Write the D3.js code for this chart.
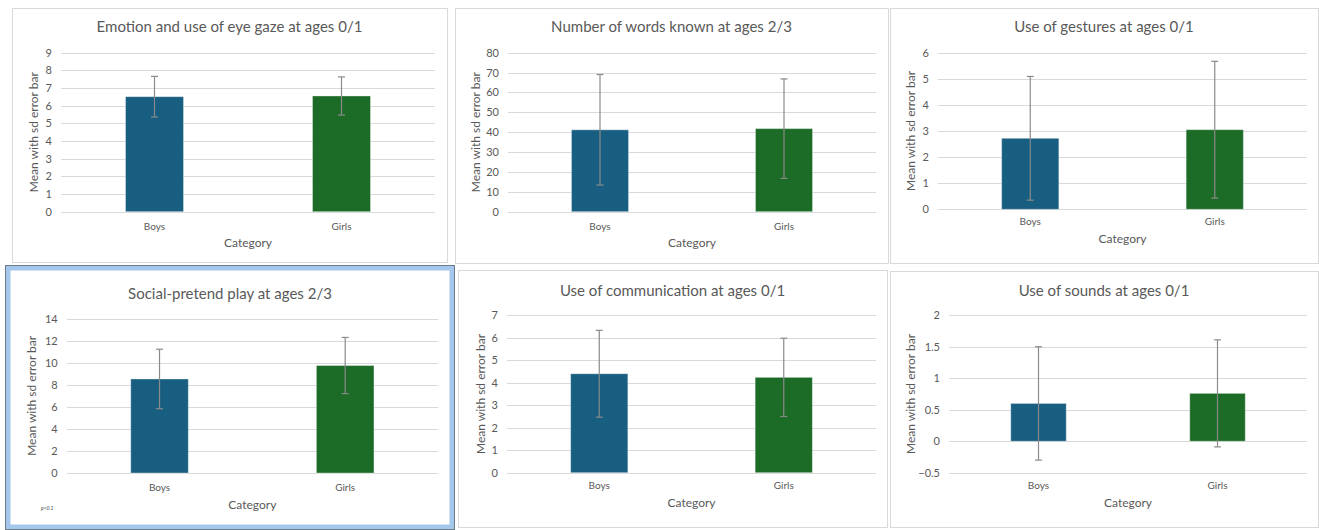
<!DOCTYPE html>
<html>
<head>
<meta charset="utf-8">
<script src="https://cdn.jsdelivr.net/npm/d3@7"></script>
<style>
  html, body { margin: 0; padding: 0; background: #ffffff; }
  svg { display: block; font-family: Lato, "Open Sans", sans-serif; }
</style>
</head>
<body>
<svg id="chart" width="1319" height="530"></svg>
<script>
// ---------- data ----------
const titles = [
  "Emotion and use of eye gaze at ages 0/1",
  "Number of words known at ages 2/3",
  "Use of gestures at ages 0/1",
  "Social-pretend play at ages 2/3",
  "Use of communication at ages 0/1",
  "Use of sounds at ages 0/1"
];
const categories = ["Boys", "Girls"];
const boysMean  = [6.51, 41.2, 2.72, 8.53, 4.40, 0.60];
const boysSD    = [1.15, 27.8, 2.37, 2.70, 1.93, 0.90];
const girlsMean = [6.55, 41.8, 3.05, 9.75, 4.24, 0.76];
const girlsSD   = [1.08, 25.0, 2.62, 2.55, 1.74, 0.85];
const yMin  = [0, 0, 0, 0, 0, -0.5];
const yMax  = [9, 80, 6, 14, 7, 2];
const yStep = [1, 10, 1, 2, 1, 0.5];
const yAxisTitle = "Mean with sd error bar";
const xAxisTitle = "Category";
const noteText = "p<0.1";

// ---------- layout ----------
const boxes = [ // panel frames [x0,y0,x1,y1]
  [12, 8, 447, 262],
  [455, 8, 888, 263],
  [890, 8, 1318, 263],
  [5, 265, 455, 530],
  [458, 270, 887, 527],
  [890, 271, 1318, 527]
];
const plots = [ // plot areas [left,top,right,bottom]
  [61, 52.7, 435, 211.7],
  [508, 52.7, 876, 211.7],
  [938, 52.7, 1307, 209.3],
  [66.7, 318.7, 438, 473],
  [507, 315.3, 876, 472.7],
  [949, 315.3, 1307, 472.7]
];
const titleY = [28, 28, 28, 295, 292, 292];
const yTitleX = [35, 477, 912, 33, 482, 912];
const catY = [227, 227, 222.7, 488, 486, 486];
const catTitleY = [244, 244, 240, 506, 504, 504];
const barColors = ["#175e80", "#1c6b27"];
const textColor = "#595959";

const svg = d3.select("#chart");

// panel frames
boxes.forEach((b, i) => {
  if (i === 3) return;
  svg.append("rect")
    .attr("x", b[0] + 0.5).attr("y", b[1] + 0.5)
    .attr("width", b[2] - b[0]).attr("height", b[3] - b[1])
    .attr("fill", "#ffffff").attr("stroke", "#d9d9d9").attr("stroke-width", 1);
});
// selected panel frame (blue)
{
  const b = boxes[3];
  svg.append("rect")
    .attr("x", b[0] + 3).attr("y", b[1] + 3)
    .attr("width", b[2] - b[0] - 6).attr("height", b[3] - b[1] - 6)
    .attr("fill", "#ffffff").attr("stroke", "#a3c8ec").attr("stroke-width", 5);
  svg.append("rect")
    .attr("x", b[0] + 0.5).attr("y", b[1] + 0.5)
    .attr("width", b[2] - b[0] - 1).attr("height", b[3] - b[1] - 1)
    .attr("fill", "none").attr("stroke", "#6d7b88").attr("stroke-width", 1);
}

titles.forEach((t, i) => {
  const [L, T, R, B] = plots[i];
  const g = svg.append("g");
  const x = d3.scaleBand().domain(categories).range([L, R]).padding(0);
  const bw = x.bandwidth() * 0.31;
  const y = d3.scaleLinear().domain([yMin[i], yMax[i]]).range([B, T]);
  const ticks = d3.range(yMin[i], yMax[i] + yStep[i] / 2, yStep[i]);

  // gridlines
  g.append("g")
    .attr("transform", `translate(${L},0)`)
    .call(d3.axisLeft(y).tickValues(ticks).tickSize(-(R - L)).tickFormat(""))
    .call(s => s.select(".domain").remove())
    .call(s => s.selectAll("line").attr("stroke", "#d9d9d9").attr("shape-rendering", "crispEdges"));

  // y tick labels
  g.append("g")
    .attr("transform", `translate(${L},0)`)
    .call(d3.axisLeft(y).tickValues(ticks).tickSize(0).tickPadding(9).tickFormat(d3.format("")))
    .call(s => s.select(".domain").remove())
    .call(s => s.selectAll("text").attr("fill", textColor).style("font-size", "11px").style("font-family", "Lato, sans-serif"));

  // bars
  const means = [boysMean[i], girlsMean[i]];
  const sds = [boysSD[i], girlsSD[i]];
  categories.forEach((c, k) => {
    const cx = x(c) + x.bandwidth() / 2;
    g.append("rect")
      .attr("x", cx - bw / 2).attr("width", bw)
      .attr("y", y(means[k])).attr("height", y(0) - y(means[k]))
      .attr("fill", barColors[k])
      .attr("stroke", "#ffffff").attr("stroke-opacity", 0.35).attr("stroke-width", 1);
    // error bar
    const top = y(means[k] + sds[k]), bot = y(means[k] - sds[k]);
    g.append("line").attr("x1", cx).attr("x2", cx).attr("y1", top).attr("y2", bot)
      .attr("stroke", "#8a8a8a").attr("stroke-width", 1.2);
    [top, bot].forEach(yy => g.append("line")
      .attr("x1", cx - 3.5).attr("x2", cx + 3.5).attr("y1", yy).attr("y2", yy)
      .attr("stroke", "#8a8a8a").attr("stroke-width", 1.2));
    // category label
    g.append("text").attr("x", cx).attr("y", catY[i])
      .attr("text-anchor", "middle").attr("dominant-baseline", "middle")
      .attr("fill", textColor).style("font-size", "10px").text(c);
  });

  // titles
  const b = boxes[i];
  g.append("text").attr("x", (b[0] + b[2]) / 2).attr("y", titleY[i])
    .attr("text-anchor", "middle").attr("dominant-baseline", "middle")
    .attr("fill", textColor).style("font-size", "15px").text(t);
  g.append("text").attr("x", (L + R) / 2).attr("y", catTitleY[i])
    .attr("text-anchor", "middle").attr("dominant-baseline", "middle")
    .attr("fill", textColor).style("font-size", "12px").text(xAxisTitle);
  g.append("text")
    .attr("transform", `translate(${yTitleX[i]},${(T + B) / 2}) rotate(-90)`)
    .attr("text-anchor", "middle").attr("dominant-baseline", "middle")
    .attr("fill", textColor).style("font-size", "12px").text(yAxisTitle);
});

// small note in the selected panel
svg.append("text").attr("x", 41).attr("y", 509)
  .attr("dominant-baseline", "middle").attr("fill", "#444")
  .style("font-size", "5px").style("font-style", "italic").text(noteText);
</script>
</body>
</html>
